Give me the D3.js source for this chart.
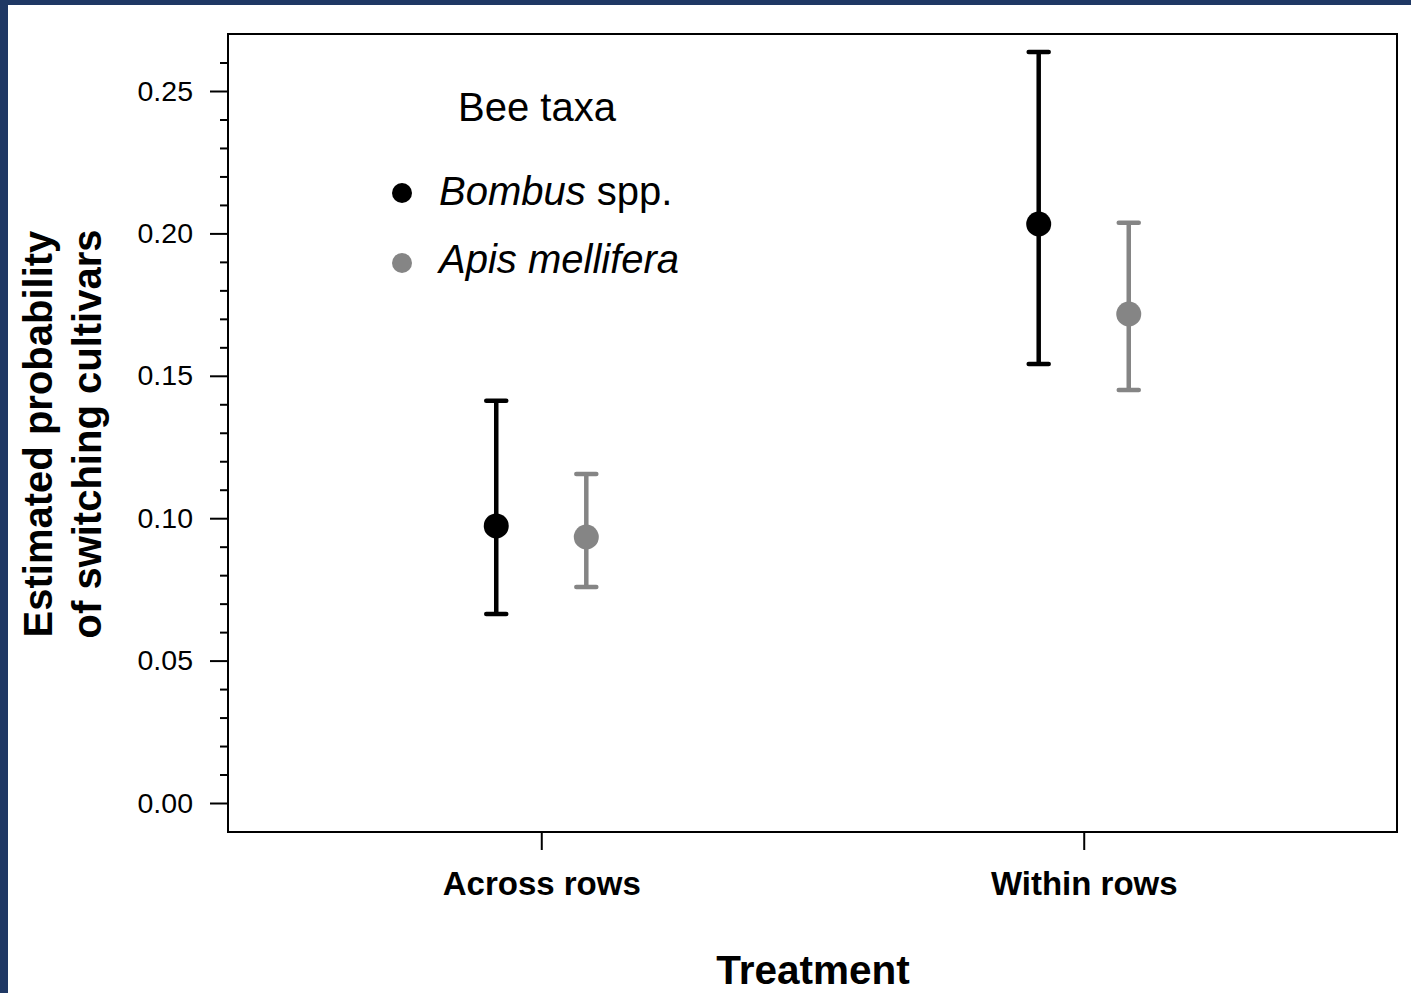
<!DOCTYPE html>
<html><head><meta charset="utf-8">
<script src="https://cdn.jsdelivr.net/npm/d3@7"></script>
<style>
html,body{margin:0;padding:0;background:#fff;}
svg{display:block;font-family:"Liberation Sans",Arial,sans-serif;}
</style></head>
<body>
<script>
const treatments = ["Across rows", "Within rows"];
const taxa = ["Bombus", "Apis"];
const taxaColors = ["#000000", "#858585"];
const estimates = { Bombus: [0.0973, 0.2033], Apis: [0.0934, 0.1717] };
const lowerCI   = { Bombus: [0.0664, 0.1541], Apis: [0.0758, 0.1450] };
const upperCI   = { Bombus: [0.1412, 0.2637], Apis: [0.1155, 0.2037] };
const yMajorTicks = [0, 0.05, 0.10, 0.15, 0.20, 0.25];
const yMinorTicks = d3.range(0, 27).map(i => i / 100);
const offsets = [-0.083, 0.083];

const W = 1411, H = 993;
const svg = d3.select("body").append("svg").attr("width", W).attr("height", H);
svg.append("rect").attr("width", W).attr("height", H).attr("fill", "#fff");
// navy frame on top/left
svg.append("rect").attr("x", 0).attr("y", 0).attr("width", W).attr("height", 5).attr("fill", "#1f3864");
svg.append("rect").attr("x", 0).attr("y", 0).attr("width", 8).attr("height", H).attr("fill", "#1f3864");

const L = 228, R = 1397, T = 34, B = 832;
const x = d3.scaleLinear().domain([0.4225, 2.5775]).range([L, R]);
const y = d3.scaleLinear().domain([0, 0.25]).range([803, 91]);

// box
svg.append("rect").attr("x", L).attr("y", T).attr("width", R - L).attr("height", B - T)
  .attr("fill", "none").attr("stroke", "#000").attr("stroke-width", 2);

// y axis
const yAxis = d3.axisLeft(y).tickValues(yMajorTicks).tickFormat(d3.format(".2f")).tickSize(18).tickPadding(17);
const gy = svg.append("g").attr("transform", `translate(${L},0)`).call(yAxis);
gy.attr("font-size", null).attr("font-family", null);
gy.select(".domain").remove();
gy.selectAll(".tick line").attr("stroke", "#000").attr("stroke-width", 2);
gy.selectAll(".tick text").attr("font-size", 28.5).attr("fill", "#000");
const yMinor = d3.axisLeft(y).tickValues(yMinorTicks.filter(v => !yMajorTicks.some(m => Math.abs(m - v) < 1e-9))).tickFormat("").tickSize(8);
const gym = svg.append("g").attr("transform", `translate(${L},0)`).call(yMinor);
gym.select(".domain").remove();
gym.selectAll(".tick line").attr("stroke", "#000").attr("stroke-width", 2);

// x axis
const xAxis = d3.axisBottom(x).tickValues([1, 2]).tickFormat((d, i) => treatments[i]).tickSize(18).tickPadding(22);
const gx = svg.append("g").attr("transform", `translate(0,${B})`).call(xAxis);
gx.attr("font-size", null).attr("font-family", null);
gx.select(".domain").remove();
gx.selectAll(".tick line").attr("stroke", "#000").attr("stroke-width", 2);
gx.selectAll(".tick text").attr("font-size", 33).attr("font-weight", "bold").attr("fill", "#000");

// axis titles
svg.append("text").attr("x", 813).attr("y", 984).attr("text-anchor", "middle")
  .attr("font-size", 40.5).attr("font-weight", "bold").text("Treatment");
const yt = svg.append("text").attr("transform", "translate(0,434) rotate(-90)")
  .attr("text-anchor", "middle").attr("font-size", 40).attr("font-weight", "bold");
yt.append("tspan").attr("x", 0).attr("y", 52).text("Estimated probability");
yt.append("tspan").attr("x", 0).attr("y", 101).text("of switching cultivars");

// error bars + points
taxa.forEach((t, ti) => {
  const col = taxaColors[ti];
  const g = svg.append("g");
  treatments.forEach((tr, i) => {
    const cx = x(i + 1 + offsets[ti]);
    g.append("line").attr("x1", cx).attr("x2", cx).attr("y1", y(lowerCI[t][i])).attr("y2", y(upperCI[t][i]))
      .attr("stroke", col).attr("stroke-width", 4.5);
    [lowerCI[t][i], upperCI[t][i]].forEach(v => {
      g.append("line").attr("x1", cx - 10).attr("x2", cx + 10).attr("y1", y(v)).attr("y2", y(v))
        .attr("stroke", col).attr("stroke-width", 4.5).attr("stroke-linecap", "round");
    });
    g.append("circle").attr("cx", cx).attr("cy", y(estimates[t][i])).attr("r", 12.5).attr("fill", col);
  });
});

// legend
svg.append("text").attr("x", 537).attr("y", 121).attr("text-anchor", "middle").attr("font-size", 40).text("Bee taxa");
const l1 = svg.append("text").attr("x", 439).attr("y", 205).attr("font-size", 40);
l1.append("tspan").attr("font-style", "italic").text("Bombus");
l1.append("tspan").text(" spp.");
svg.append("text").attr("x", 439).attr("y", 273).attr("font-size", 40).attr("font-style", "italic").text("Apis mellifera");
svg.append("circle").attr("cx", 402).attr("cy", 193).attr("r", 10).attr("fill", taxaColors[0]);
svg.append("circle").attr("cx", 402).attr("cy", 263).attr("r", 10).attr("fill", taxaColors[1]);
</script>
</body></html>
